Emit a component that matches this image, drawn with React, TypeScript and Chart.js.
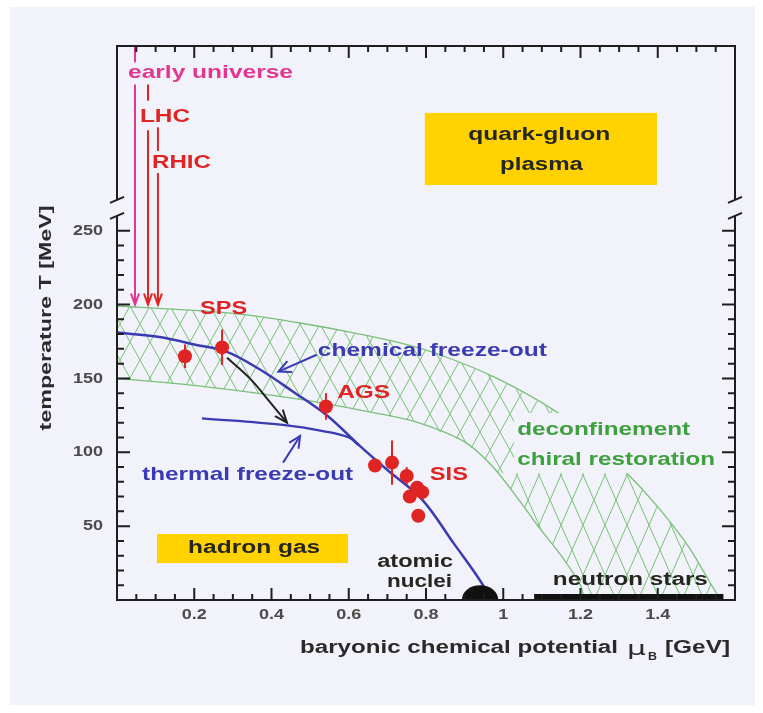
import React, { useEffect, useRef } from 'react';
import { Chart, registerables } from 'chart.js';
Chart.register(...registerables);

// ---------------- data ----------------
const xTickValues = [0.2, 0.4, 0.6, 0.8, 1.0, 1.2, 1.4];
const xTickLabels = ['0.2', '0.4', '0.6', '0.8', '1', '1.2', '1.4'];
const yTickValues = [50, 100, 150, 200, 250];
const yTickLabels = ['50', '100', '150', '200', '250'];

// deconfinement / chiral restoration band
const bandUpperMu = [0, 0.2, 0.335, 0.474, 0.6, 0.733, 0.836, 0.984, 1.14, 1.23, 1.32, 1.4, 1.48, 1.556, 1.57];
const bandUpperT = [199, 196, 193, 187.5, 181.5, 174, 166, 150, 127, 108, 86, 63, 36, 3, 0];
const bandLowerMu = [0, 0.21, 0.47, 0.68, 0.78, 0.9, 0.97, 1.04, 1.09, 1.15, 1.2, 1.21];
const bandLowerT = [150, 145, 136, 126, 120, 107, 91, 68, 50, 30, 10, 0];
// lower-right part of the band (below the green labels), drawn with a wider hatch
const bandLowRightMu = [0.99, 1.04, 1.09, 1.15, 1.2, 1.21, 1.57, 1.556, 1.48, 1.4, 1.32, 0.99];
const bandLowRightT = [86, 68, 50, 30, 10, 0, 0, 3, 36, 63, 86, 86];

// chemical freeze-out curve
const chemMu = [0, 0.11, 0.2, 0.285, 0.37, 0.456, 0.543, 0.63, 0.7, 0.79, 0.87, 0.95, 0.96];
const chemT = [181, 178, 173, 168, 156, 141, 125, 104, 88, 68, 39, 9, 0];
// thermal freeze-out curve
const thermMu = [0.22, 0.43, 0.54, 0.6, 0.625];
const thermT = [123, 118.5, 114, 110, 105];

// experimental freeze-out points (SPS, AGS, SIS)
const expMu = [0.176, 0.272, 0.541, 0.668, 0.712, 0.75, 0.777, 0.79, 0.758, 0.78];
const expT = [165, 171, 131, 91, 93, 84, 76, 73, 70, 57];
const expErr = [8, 12, 9, 0, 15, 6, 0, 5, 0, 0];

// beams arriving from above (early universe, LHC, RHIC)
const beamMu = [0.0466, 0.0803, 0.106];
const beamTopFrom = [375, 349, 320];
const beamTopTo = [364, 338, 304];
const beamMainFrom = [349, 318, 289];
const beamMainTo = [200, 200, 200];

// black arrow SPS chemical -> thermal
const blackArrowMu = [0.285, 0.344, 0.396, 0.44];
const blackArrowT = [164, 150, 134, 120];
// blue label arrows
const chemArrowMu = [0.517, 0.418];
const chemArrowT = [166, 154.6];
const thermArrowMu = [0.43, 0.474];
const thermArrowT = [93, 111];

// neutron stars bar and atomic nuclei blob
const nsMu = [1.08, 1.57];
const nsT = [2, 2];
const nucleiMu = 0.94;
const nucleiHalfWidth = 0.047;
const nucleiHeight = 10;

// ---------------- styles ----------------
const FONT = '"Liberation Sans", Arial, Helvetica, sans-serif';
const BG = 'rgb(242,243,250)';
const BLUE = 'rgb(58,58,178)';
const GREEN_TXT = 'rgb(62,160,62)';
const HATCH = 'rgb(120,192,120)';
const RED = 'rgb(224,36,36)';
const MAGENTA = 'rgb(226,54,146)';
const YELLOW = 'rgb(255,210,0)';
const DARK = '#262620';

const zip = (a: number[], b: number[]) => a.map((v, i) => ({ x: v, y: b[i] }));

function drawText(ctx: CanvasRenderingContext2D, s: string, x: number, y: number, opt: any) {
  const { size = 18, color = DARK, align = 'left', width, sx, weight = 'bold', family = FONT, rotate = 0 } = opt;
  ctx.save();
  ctx.font = `${weight} ${size}px ${family}`;
  ctx.fillStyle = color;
  ctx.textBaseline = 'middle';
  ctx.textAlign = align;
  const m = ctx.measureText(s).width;
  const scale = width ? width / m : sx || 1;
  ctx.translate(x, y);
  if (rotate) ctx.rotate(rotate);
  ctx.scale(scale, 1);
  ctx.fillText(s, 0, 0);
  ctx.restore();
}

function arrowHead(ctx: CanvasRenderingContext2D, x0: number, y0: number, x1: number, y1: number, color: string, len = 11, ang = 0.42) {
  const a = Math.atan2(y1 - y0, x1 - x0);
  ctx.save();
  ctx.strokeStyle = color;
  ctx.lineWidth = 2;
  ctx.lineCap = 'round';
  ctx.beginPath();
  ctx.moveTo(x1 - len * Math.cos(a - ang), y1 - len * Math.sin(a - ang));
  ctx.lineTo(x1, y1);
  ctx.lineTo(x1 - len * Math.cos(a + ang), y1 - len * Math.sin(a + ang));
  ctx.stroke();
  ctx.restore();
}

function makePattern(ctx: CanvasRenderingContext2D, w: number, h: number) {
  const tile = document.createElement('canvas');
  tile.width = w;
  tile.height = h;
  const g = tile.getContext('2d')!;
  g.strokeStyle = HATCH;
  g.lineWidth = 1;
  g.beginPath();
  g.moveTo(0, 0); g.lineTo(w, h);
  g.moveTo(w, 0); g.lineTo(0, h);
  g.stroke();
  return ctx.createPattern(tile, 'repeat');
}

// label annotations: [text, mu, T, width, size, color, align]
const labels: [string, number, number, number, number, string, string][] = [
  ['early universe', 0.0285, 356.7, 165, 19, MAGENTA, 'left'],
  ['LHC', 0.0595, 327, 50, 19, RED, 'left'],
  ['RHIC', 0.0906, 296, 59, 19, RED, 'left'],
  ['quark-gluon', 1.093, 315, 142, 18, DARK, 'center'],
  ['plasma', 1.099, 294.5, 83, 18, DARK, 'center'],
  ['SPS', 0.215, 197, 47, 19, RED, 'left'],
  ['AGS', 0.57, 140, 53, 19, RED, 'left'],
  ['SIS', 0.81, 84.6, 38, 19, RED, 'left'],
  ['chemical freeze-out', 0.52, 169, 229, 19, BLUE, 'left'],
  ['thermal freeze-out', 0.065, 84.6, 211, 19, BLUE, 'left'],
  ['deconfinement', 1.036, 115, 173, 19, GREEN_TXT, 'left'],
  ['chiral restoration', 1.036, 94.8, 198, 19, GREEN_TXT, 'left'],
  ['hadron gas', 0.355, 35.2, 132, 18, DARK, 'center'],
  ['atomic', 0.772, 25.7, 76, 18, DARK, 'center'],
  ['nuclei', 0.783, 12.2, 65, 18, DARK, 'center'],
  ['neutron stars', 1.329, 13.5, 155, 18, DARK, 'center'],
];

const decor = {
  id: 'decor',
  beforeDraw(chart: any) {
    const ctx = chart.ctx as CanvasRenderingContext2D;
    ctx.save();
    ctx.fillStyle = '#ffffff';
    ctx.fillRect(0, 0, chart.width, chart.height);
    ctx.fillStyle = BG;
    ctx.fillRect(10, 7, 745, 698);
    ctx.restore();
  },
  afterDatasetsDraw(chart: any) {
    const ctx = chart.ctx as CanvasRenderingContext2D;
    const xs = chart.scales.x;
    const ys = chart.scales.y;
    const px = (v: number) => xs.getPixelForValue(v);
    const py = (v: number) => ys.getPixelForValue(v);
    const { left: L, right: R, top: T, bottom: B } = chart.chartArea;

    // clear area behind green labels
    ctx.fillStyle = BG;
    ctx.fillRect(px(1.028), py(126.6), px(1.566) - px(1.028), py(85.6) - py(126.6));

    // yellow boxes
    ctx.fillStyle = YELLOW;
    ctx.fillRect(px(0.797), py(329.7), px(1.398) - px(0.797), py(280.9) - py(329.7));
    ctx.fillRect(px(0.1036), py(44.7), px(0.598) - px(0.1036), py(25) - py(44.7));

    // atomic nuclei blob
    ctx.save();
    ctx.fillStyle = '#111';
    ctx.beginPath();
    const cx = px(nucleiMu);
    const rx = px(nucleiMu + nucleiHalfWidth) - cx;
    const ry = py(0) - py(nucleiHeight);
    ctx.ellipse(cx, py(0), rx, ry, 0, Math.PI, 2 * Math.PI);
    ctx.closePath();
    ctx.fill();
    ctx.restore();

    // arrow heads
    beamMu.forEach((m, i) => {
      arrowHead(ctx, px(m), py(beamMainFrom[i]), px(m), py(beamMainTo[i]), i === 0 ? MAGENTA : RED, 11, 0.35);
    });
    const n = blackArrowMu.length;
    arrowHead(ctx, px(blackArrowMu[n - 2]), py(blackArrowT[n - 2]), px(blackArrowMu[n - 1]), py(blackArrowT[n - 1]), '#222', 13, 0.38);
    arrowHead(ctx, px(chemArrowMu[0]), py(chemArrowT[0]), px(chemArrowMu[1]), py(chemArrowT[1]), BLUE, 13, 0.45);
    arrowHead(ctx, px(thermArrowMu[0]), py(thermArrowT[0]), px(thermArrowMu[1]), py(thermArrowT[1]), BLUE, 12, 0.45);

    // labels
    labels.forEach(([s, m, t, w, size, color, align]) => {
      drawText(ctx, s, px(m), py(t), { size, color, width: w, align });
    });

    // axes frame with break
    const brTop = py(270.8);
    const brBot = py(260);
    ctx.save();
    ctx.strokeStyle = '#1e1e1e';
    ctx.lineWidth = 2;
    ctx.lineCap = 'butt';
    ctx.beginPath();
    ctx.moveTo(L, T); ctx.lineTo(R, T);
    ctx.moveTo(L, B); ctx.lineTo(R, B);
    ctx.moveTo(L, T - 1); ctx.lineTo(L, brTop);
    ctx.moveTo(L, brBot); ctx.lineTo(L, B + 1);
    ctx.moveTo(R, T - 1); ctx.lineTo(R, brTop);
    ctx.moveTo(R, brBot); ctx.lineTo(R, B + 1);
    [L, R].forEach((ax) => {
      ctx.moveTo(ax - 7, brTop + 3); ctx.lineTo(ax + 7, brTop - 3);
      ctx.moveTo(ax - 7, brBot + 3); ctx.lineTo(ax + 7, brBot - 3);
    });
    ctx.stroke();

    // y ticks
    ctx.beginPath();
    for (let v = 10; v <= 250; v += 10) {
      const len = v % 50 === 0 ? 13 : 7;
      const y = py(v);
      ctx.moveTo(L, y); ctx.lineTo(L + len, y);
      ctx.moveTo(R, y); ctx.lineTo(R - len, y);
    }
    // x ticks
    for (let k = 1; k <= 31; k++) {
      const v = k * 0.05;
      const len = k % 4 === 0 ? 12 : 6;
      const x = px(v);
      ctx.moveTo(x, B); ctx.lineTo(x, B - len);
      ctx.moveTo(x, T); ctx.lineTo(x, T + len);
    }
    ctx.stroke();
    ctx.restore();

    // tick labels
    yTickValues.forEach((v, i) => {
      drawText(ctx, yTickLabels[i], L - 14, py(v), { size: 15, color: '#4a4a4a', align: 'right', sx: 1.2 });
    });
    xTickValues.forEach((v, i) => {
      drawText(ctx, xTickLabels[i], px(v), B + 15, { size: 15, color: '#4a4a4a', align: 'center', sx: 1.2 });
    });

    // axis titles
    drawText(ctx, 'temperature T [MeV]', 46, 318, { size: 17, color: '#2a2a2a', align: 'center', width: 225, rotate: -Math.PI / 2 });
    drawText(ctx, 'baryonic chemical potential', 300, 648, { size: 18, color: '#2a2a2a', width: 318 });
    drawText(ctx, 'μ', 627, 650, { size: 19, color: '#2a2a2a', weight: 'normal', width: 19, family: '"DejaVu Sans", sans-serif' });
    drawText(ctx, 'B', 648, 657, { size: 11, color: '#2a2a2a', width: 9 });
    drawText(ctx, '[GeV]', 665, 648, { size: 18, color: '#2a2a2a', width: 65 });
  },
};

export default function App() {
  const ref = useRef<HTMLCanvasElement | null>(null);
  useEffect(() => {
    const canvas = ref.current!;
    const ctx = canvas.getContext('2d')!;

    const patternSmall = makePattern(ctx, 20, 36);
    const patternLarge = makePattern(ctx, 22, 50);

    const bandPoly = [
      ...zip(bandUpperMu, bandUpperT),
      ...zip(bandLowerMu, bandLowerT).reverse(),
    ];
    bandPoly.push({ ...bandPoly[0] });
    const lowRight = zip(bandLowRightMu, bandLowRightT);

    const line = (data: any[], color: string, width: number, extra: any = {}) => ({
      type: 'scatter',
      data,
      showLine: true,
      borderColor: color,
      borderWidth: width,
      pointRadius: 0,
      fill: false,
      tension: 0,
      ...extra,
    });

    const datasets: any[] = [];
    // hatch fills
    datasets.push(line(bandPoly, 'rgba(0,0,0,0)', 0, { fill: 'shape', backgroundColor: patternSmall, order: 30 }));
    datasets.push(line(lowRight, 'rgba(0,0,0,0)', 0, { fill: 'shape', backgroundColor: BG, order: 29 }));
    datasets.push(line(lowRight, 'rgba(0,0,0,0)', 0, { fill: 'shape', backgroundColor: patternLarge, order: 28 }));
    // band boundaries
    datasets.push(line(zip(bandUpperMu, bandUpperT), HATCH, 1.3, { tension: 0.3, order: 27 }));
    datasets.push(line(zip(bandLowerMu, bandLowerT), HATCH, 1.3, { tension: 0.3, order: 27 }));
    // freeze-out curves
    datasets.push(line(zip(chemMu, chemT), BLUE, 2.5, { tension: 0.35, order: 5 }));
    datasets.push(line(zip(thermMu, thermT), BLUE, 2.2, { tension: 0.35, order: 5 }));
    datasets.push(line(zip(blackArrowMu, blackArrowT), '#222', 2, { tension: 0.35, order: 4 }));
    datasets.push(line(zip(chemArrowMu, chemArrowT), BLUE, 2, { order: 4 }));
    datasets.push(line(zip(thermArrowMu, thermArrowT), BLUE, 2, { order: 4 }));
    beamMu.forEach((m, i) => {
      const c = i === 0 ? MAGENTA : RED;
      datasets.push(line([{ x: m, y: beamTopFrom[i] }, { x: m, y: beamTopTo[i] }], c, 2, { order: 4 }));
      datasets.push(line([{ x: m, y: beamMainFrom[i] }, { x: m, y: beamMainTo[i] }], c, 2, { order: 4 }));
    });
    datasets.push(line(zip(nsMu, nsT), '#111', 6, { order: 4 }));
    expMu.forEach((m, i) => {
      if (expErr[i] > 0) {
        datasets.push(line([{ x: m, y: expT[i] - expErr[i] }, { x: m, y: expT[i] + expErr[i] }], RED, 2, { order: 3 }));
      }
    });
    datasets.push({
      type: 'scatter',
      data: zip(expMu, expT),
      pointRadius: 7,
      pointBackgroundColor: RED,
      pointBorderColor: RED,
      pointBorderWidth: 0,
      showLine: false,
      order: 1,
    });

    const chart = new Chart(canvas, {
      type: 'scatter',
      data: { datasets },
      options: {
        responsive: false,
        animation: false,
        devicePixelRatio: 1,
        events: [],
        layout: { padding: { left: 117, right: 28, top: 46, bottom: 113 } },
        scales: {
          x: { type: 'linear', min: 0, max: 1.6, display: false },
          y: { type: 'linear', min: 0, max: 375, display: false },
        },
        plugins: { legend: { display: false }, tooltip: { enabled: false } },
      },
      plugins: [decor],
    } as any);
    return () => chart.destroy();
  }, []);

  return (
    <div style={{ position: 'absolute', left: 0, top: 0, width: 763, height: 713 }}>
      <canvas ref={ref} width={763} height={713} style={{ display: 'block' }} />
    </div>
  );
}
